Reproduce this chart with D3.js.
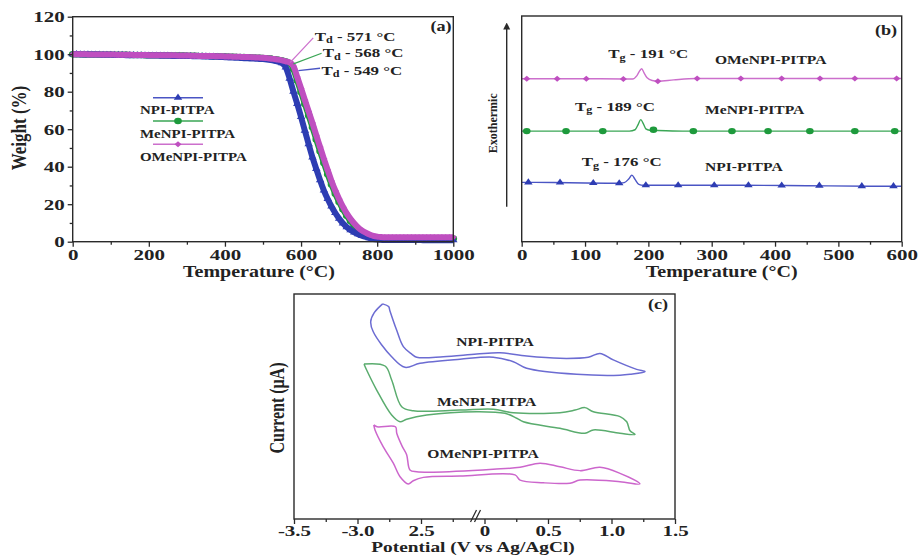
<!DOCTYPE html>
<html>
<head>
<meta charset="utf-8">
<script src="https://cdn.jsdelivr.net/npm/d3@7"></script>
<style>
  body { margin: 0; background: #fff; }
  svg text { font-family: "Liberation Serif", "Times New Roman", serif; font-weight: bold; fill: #222; }
</style>
</head>
<body>
<div id="chart"></div>
<script>
// ---- data ----
const seriesNames = ['NPI-PITPA', 'MeNPI-PITPA', 'OMeNPI-PITPA'];

// (a) TGA, weight (%) every 10 °C
const tgaTemps = [0,10,20,30,40,50,60,70,80,90,100,110,120,130,140,150,160,170,180,190,
  200,210,220,230,240,250,260,270,280,290,300,310,320,330,340,350,360,370,380,390,
  400,410,420,430,440,450,460,470,480,490,500,510,520,530,540,550,560,570,580,590,
  600,610,620,630,640,650,660,670,680,690,700,710,720,730,740,750,760,770,780,790,
  800,810,820,830,840,850,860,870,880,890,900,910,920,930,940,950,960,970,980,990,1000];
const tgaNPI = [100.0,100.0,99.9,99.9,99.9,99.8,99.8,99.8,99.7,99.7,
  99.7,99.6,99.6,99.6,99.5,99.5,99.5,99.4,99.4,99.4,
  99.3,99.3,99.3,99.2,99.2,99.2,99.1,99.1,99.1,99.0,
  99.0,99.0,98.9,98.9,98.8,98.8,98.7,98.7,98.6,98.5,
  98.4,98.3,98.2,98.1,98.0,97.9,97.8,97.7,97.6,97.5,
  97.4,97.2,96.9,96.5,96.0,95.2,93.0,87.0,80.0,73.5,
  66.5,59.2,52.0,45.0,38.8,32.8,27.3,22.8,18.8,15.3,
  12.3,9.8,7.8,6.2,5.0,4.0,3.2,2.5,1.9,1.4,
  1.1,1.0,0.9,0.9,0.9,0.9,0.9,0.9,0.9,0.9,
  0.9,0.9,0.8,0.8,0.8,0.8,0.8,0.8,0.8,0.8,0.8];
const tgaMeNPI = [100.0,100.0,100.0,99.9,99.9,99.9,99.9,99.8,99.8,99.8,
  99.8,99.7,99.7,99.7,99.7,99.6,99.6,99.6,99.6,99.5,
  99.5,99.5,99.5,99.4,99.4,99.4,99.4,99.3,99.3,99.3,
  99.2,99.2,99.2,99.1,99.1,99.0,99.0,98.9,98.9,98.8,
  98.8,98.7,98.7,98.6,98.5,98.5,98.4,98.3,98.2,98.1,
  98.0,97.9,97.7,97.4,97.1,96.7,96.1,95.2,92.0,86.0,
  79.8,73.5,67.3,61.0,54.5,48.2,42.0,36.0,30.5,25.6,
  21.2,17.3,13.9,11.0,8.6,6.6,5.0,3.9,3.0,2.4,
  2.0,1.8,1.7,1.7,1.7,1.7,1.7,1.7,1.7,1.7,
  1.7,1.7,1.7,1.7,1.7,1.7,1.7,1.7,1.7,1.7,1.7];
const tgaOMeNPI = [100.0,100.0,100.0,100.0,99.9,99.9,99.9,99.9,99.8,99.8,
  99.8,99.8,99.7,99.7,99.7,99.7,99.6,99.6,99.6,99.6,
  99.5,99.5,99.5,99.5,99.4,99.4,99.4,99.4,99.3,99.3,
  99.3,99.2,99.2,99.1,99.1,99.1,99.0,99.0,98.9,98.9,
  98.8,98.8,98.7,98.7,98.6,98.5,98.5,98.4,98.3,98.2,
  98.1,97.9,97.7,97.4,97.1,96.7,96.2,95.6,93.6,87.8,
  81.8,75.6,69.5,63.3,56.8,50.5,44.2,38.2,32.4,27.3,
  22.8,18.7,15.1,12.2,9.7,7.6,6.0,4.8,3.8,3.1,
  2.7,2.5,2.4,2.4,2.4,2.4,2.4,2.4,2.4,2.4,
  2.4,2.4,2.4,2.4,2.4,2.4,2.4,2.4,2.4,2.4,2.4];
const tdValues = [549, 568, 571];

const tgaXTicks = [0, 200, 400, 600, 800, 1000];
const tgaXMinor = [100, 300, 500, 700, 900];
const tgaYTicks = [0, 20, 40, 60, 80, 100, 120];
const tgaYMinor = [10, 30, 50, 70, 90, 110];

// (b) DSC, arbitrary offset units [T, signal]
const dscNPI = [[0,26.3],[50,26.2],[100,26.0],[150,25.9],[162,26.2],[169,27.8],[174,29.5],[179,27.6],
  [185,25.4],[192,25.0],[250,25.0],[350,25.0],[450,24.8],[550,24.6],[600,24.6]];
const dscNPIMarks = [[10.5,26.3],[60.5,26.2],[113,26.0],[154,25.9],[196,25.0],[247,25.0],[304,25.0],
  [358,25.0],[410.5,24.9],[470,24.8],[537,24.6],[587,24.6]];
const dscMeNPI = [[0,49.0],[100,49.0],[170,49.0],[179,49.6],[184,52.0],[188,54.1],[192,52.3],[196,50.0],
  [202,49.4],[215,49.3],[260,49.0],[600,49.0]];
const dscMeNPIMarks = [[8,49.0],[70,49.0],[128,49.0],[208,49.6],[271,49.0],[332,49.0],[389,49.0],
  [455,49.0],[526,49.0],[589,49.0]];
const dscOMeNPI = [[0,72.2],[100,72.2],[160,72.1],[175,72.1],[182,73.6],[186.5,75.8],[189.5,76.6],
  [193,74.9],[198,72.6],[206,71.4],[215,71.1],[240,71.7],[275,72.3],[600,72.3]];
const dscOMeNPIMarks = [[8,72.2],[56,72.2],[102,72.2],[160.5,72.1],[215,71.1],[277,72.3],[346,72.3],
  [410.5,72.3],[471,72.3],[526,72.3],[592,72.3]];
const tgValues = [176, 189, 191];
const dscXTicks = [0, 100, 200, 300, 400, 500, 600];
const dscXMinor = [50, 150, 250, 350, 450, 550];

// (c) CV loops [potential V, current (offset units)]
const cvNPI = [[-2.802,95.6],[-2.755,94.4],[-2.745,92.6],[-2.692,84.0],[-2.639,76.6],[-2.573,73.3],
  [-2.534,71.9],[-1.622,72.1],[-0.307,73.3],[0.122,73.9],[0.332,72.4],[0.594,71.4],[0.817,71.9],
  [0.909,73.6],[1.014,70.7],[1.198,66.5],[1.264,65.5],[1.146,64.3],[1.067,63.9],[0.726,64.3],
  [0.332,67.0],[0.227,69.9],[0.069,71.9],[-0.965,71.0],[-2.508,69.2],[-2.626,67.4],[-2.731,72.1],
  [-2.876,83.2],[-2.896,87.7],[-2.868,91.7],[-2.802,95.6]];
const cvMeNPI = [[-2.949,68.9],[-2.783,68.0],[-2.731,61.8],[-2.652,49.9],[-2.561,48.1],[-0.965,48.4],
  [0.069,48.8],[0.227,47.2],[0.594,47.2],[0.713,48.4],[0.791,49.5],[0.857,47.7],[1.067,45.5],
  [1.120,43.2],[1.146,39.2],[1.185,37.6],[1.067,38.1],[0.857,39.6],[0.791,38.1],[0.594,40.3],
  [0.306,43.2],[0.254,44.8],[0.161,47.0],[-0.307,47.7],[-2.276,46.2],[-2.613,44.3],[-2.665,43.2],
  [-2.731,46.2],[-2.849,57.3],[-2.928,66.2],[-2.949,68.9]];
const cvOMeNPI = [[-2.872,41.8],[-2.846,41.0],[-2.701,41.0],[-2.691,38.1],[-2.648,32.3],[-2.613,28.6],
  [-2.587,21.8],[-2.534,21.0],[-2.016,20.8],[0.069,22.1],[0.280,23.0],[0.437,24.8],[0.594,23.2],
  [0.752,21.5],[0.909,23.0],[1.067,20.3],[1.224,15.6],[1.067,16.6],[0.752,17.3],[0.673,15.9],
  [0.463,16.1],[0.280,17.3],[0.240,19.6],[-0.965,19.1],[-2.409,18.5],[-2.561,17.0],[-2.600,15.6],
  [-2.665,18.8],[-2.718,24.8],[-2.797,32.1],[-2.862,39.6],[-2.872,41.8]];
const cvTicks = [-3.5, -3.0, -2.5, 0, 0.5, 1.0, 1.5];
const cvTickLabels = ['-3.5', '-3.0', '2.5', '0', '0.5', '1.0', '1.5'];
const cvMinor = [-3.25, -2.75, -1.25, 0.25, 0.75, 1.25];

// ---- styles ----
const SX = 1.3;           // the figure is stretched sideways, text too
const SX_TICK = 1.4;
const SX_TITLE = 1.25;
const INK = '#2a2a2a';
const styles = [
  { symbol: d3.symbolTriangle, size: 22, mark: '#2e3db3', line: '#4a55c4', cv: '#6c6cd2' },
  { symbol: d3.symbolCircle, size: 32, mark: '#1e9a3c', line: '#3aa655', cv: '#5aac6e' },
  { symbol: d3.symbolDiamond2 || d3.symbolDiamond, size: 22, mark: '#bf4fc0', line: '#cc6fcc', cv: '#cc66cc' }
];

const svg = d3.select('#chart').append('svg')
  .attr('width', 919)
  .attr('height', 556);

function addText (parent, x, y, str, size, anchor = 'start', rotate = 0, sx = SX) {
  return parent.append('text')
    .attr('transform', `translate(${x},${y}) scale(${sx},1)` + (rotate ? ` rotate(${rotate})` : ''))
    .attr('font-size', size)
    .attr('text-anchor', anchor)
    .attr('dy', '0.35em')
    .text(str);
}

// "T" + subscript + rest
function addSubText (parent, x, y, sub, rest, size) {
  const t = parent.append('text')
    .attr('transform', `translate(${x},${y}) scale(${SX},1)`)
    .attr('font-size', size)
    .attr('dy', '0.35em');
  t.append('tspan').text('T');
  t.append('tspan').attr('font-size', size * 0.72).attr('dy', size * 0.22).text(sub);
  t.append('tspan').attr('dy', -size * 0.22).text(rest);
}

function frame (box) {
  svg.append('rect')
    .attr('x', box.left).attr('y', box.top)
    .attr('width', box.right - box.left).attr('height', box.bottom - box.top)
    .attr('fill', 'none').attr('stroke', INK).attr('stroke-width', 1.4);
}

function styleAxis (g, left) {
  g.select('.domain').remove();
  g.style('color', INK).attr('font-family', null).attr('font-size', 15);
  g.selectAll('line').attr('stroke-width', 1.3);
  g.selectAll('text')
    .attr('transform', `scale(${SX_TICK},1)`)
    .attr('x', function () { return left ? -8 / SX_TICK : 0; });
}

function bottomAxis (scale, box, major, minor, format, pad = 3) {
  const gMin = svg.append('g').attr('transform', `translate(0,${box.bottom})`)
    .call(d3.axisBottom(scale).tickValues(minor).tickSize(3).tickFormat(''));
  styleAxis(gMin, false);
  const gMaj = svg.append('g').attr('transform', `translate(0,${box.bottom})`)
    .call(d3.axisBottom(scale).tickValues(major).tickSize(5).tickPadding(pad).tickFormat(format));
  styleAxis(gMaj, false);
}

function marker (parent, st, x, y) {
  parent.append('path')
    .attr('d', d3.symbol().type(st.symbol).size(st.size)())
    .attr('transform', `translate(${x},${y}) scale(1.2,1)`)
    .attr('fill', st.mark);
}

// ================= (a) TGA =================
const boxA = { left: 72.7, right: 453.3, top: 16.7, bottom: 241.7 };
const xA = d3.scaleLinear().domain([0, 1000]).range([boxA.left, boxA.right]);
const yA = d3.scaleLinear().domain([0, 120]).range([boxA.bottom, boxA.top]);
const tgaSeries = [tgaNPI, tgaMeNPI, tgaOMeNPI];

const gA = svg.append('g');
[1, 0, 2].forEach(i => {
  const pts = tgaTemps.map((t, k) => [t, tgaSeries[i][k]]);
  // the markers are so dense they merge into a band
  gA.append('path')
    .attr('d', d3.line().x(d => xA(d[0])).y(d => yA(d[1])).curve(d3.curveMonotoneX)(pts))
    .attr('fill', 'none').attr('stroke', styles[i].mark).attr('stroke-width', 6)
    .attr('stroke-linejoin', 'round');
  pts.forEach(d => marker(gA, styles[i], xA(d[0]), yA(d[1])));
});

frame(boxA);
const gAyMin = svg.append('g').attr('transform', `translate(${boxA.left},0)`)
  .call(d3.axisLeft(yA).tickValues(tgaYMinor).tickSize(3).tickFormat(''));
styleAxis(gAyMin, true);
const gAy = svg.append('g').attr('transform', `translate(${boxA.left},0)`)
  .call(d3.axisLeft(yA).tickValues(tgaYTicks).tickSize(5).tickPadding(3));
styleAxis(gAy, true);
bottomAxis(xA, boxA, tgaXTicks, tgaXMinor, d3.format('d'));

addText(svg, 259, 271.5, 'Temperature (°C)', 16, 'middle', 0, SX_TITLE);
addText(svg, 19, 128, 'Weight (%)', 17, 'middle', -90, SX_TITLE);
addText(svg, 441, 26, '(a)', 14, 'middle');

// legend
seriesNames.forEach((name, i) => {
  const ly = 97.7 + i * 23.3;
  svg.append('line')
    .attr('x1', 153).attr('x2', 203).attr('y1', ly).attr('y2', ly)
    .attr('stroke', styles[i].line).attr('stroke-width', 1.4);
  marker(svg, styles[i], 178, ly);
  addText(svg, 140, ly + 12.5, name, 11.5);
});

// Td call-outs: [curve point] -> [label point]
const tdLeaders = [
  { i: 2, from: [571, 95.5], to: [632, 108.7], text: [636, 109.7] },
  { i: 1, from: [580, 94.8], to: [654, 100.5], text: [657, 100.8] },
  { i: 0, from: [593, 91.2], to: [650, 92.5], text: [654, 91.6] }
];
tdLeaders.forEach(l => {
  svg.append('line')
    .attr('x1', xA(l.from[0])).attr('y1', yA(l.from[1]))
    .attr('x2', xA(l.to[0])).attr('y2', yA(l.to[1]))
    .attr('stroke', styles[l.i].line).attr('stroke-width', 1.3);
  addSubText(svg, xA(l.text[0]), yA(l.text[1]), 'd', ` - ${tdValues[l.i]} °C`, 13);
});

// ================= (b) DSC =================
const boxB = { left: 521.7, right: 901.7, top: 16, bottom: 241.7 };
const xB = d3.scaleLinear().domain([0, 600]).range([boxB.left, boxB.right]);
const yB = d3.scaleLinear().domain([0, 100]).range([boxB.bottom, boxB.top]);
const dscLines = [dscNPI, dscMeNPI, dscOMeNPI];
const dscMarks = [dscNPIMarks, dscMeNPIMarks, dscOMeNPIMarks];

const gB = svg.append('g');
dscLines.forEach((line, i) => {
  gB.append('path')
    .attr('d', d3.line().x(d => xB(d[0])).y(d => yB(d[1])).curve(d3.curveMonotoneX)(line))
    .attr('fill', 'none').attr('stroke', styles[i].line).attr('stroke-width', 1.4);
  dscMarks[i].forEach(d => marker(gB, styles[i], xB(d[0]), yB(d[1])));
});
frame(boxB);
bottomAxis(xB, boxB, dscXTicks, dscXMinor, d3.format('d'));
addText(svg, 721.7, 271.5, 'Temperature (°C)', 16, 'middle', 0, SX_TITLE);
addText(svg, 886, 30, '(b)', 14, 'middle');

// Tg and series labels
const tgLabelPos = [[581.7, 161.7], [575, 106], [608.3, 53.3]];
const nameLabelPos = [[705, 166.7], [705, 109.3], [715, 60]];
tgValues.forEach((v, i) => {
  addSubText(svg, tgLabelPos[i][0], tgLabelPos[i][1], 'g', ` - ${v} °C`, 13);
  addText(svg, nameLabelPos[i][0], nameLabelPos[i][1], seriesNames[i], 12);
});

// exothermic arrow
svg.append('defs').append('marker')
  .attr('id', 'arrow').attr('viewBox', '0 0 10 10')
  .attr('refX', 5).attr('refY', 5).attr('markerWidth', 5).attr('markerHeight', 7)
  .attr('orient', 'auto-start-reverse')
  .append('path').attr('d', 'M0,0 L10,5 L0,10 z').attr('fill', INK);
svg.append('line')
  .attr('x1', 506.7).attr('y1', 206.7).attr('x2', 506.7).attr('y2', 26)
  .attr('stroke', INK).attr('stroke-width', 1.4).attr('marker-end', 'url(#arrow)');
addText(svg, 492, 123.3, 'Exothermic', 12, 'middle', -90, 1.1);

// ================= (c) CV =================
const boxC = { left: 294, right: 675, top: 294, bottom: 519 };
const stepC = (boxC.right - boxC.left) / 6;
// broken axis: -3.5..-2.5 and 0..1.5 keep their scale, -2.5..0 is squeezed into one step
const xC = d3.scaleLinear()
  .domain([-3.5, -2.5, 0, 1.5])
  .range([boxC.left, boxC.left + 2 * stepC, boxC.left + 3 * stepC, boxC.right]);
const yC = d3.scaleLinear().domain([0, 100]).range([boxC.bottom, boxC.top]);
const cvLoops = [cvNPI, cvMeNPI, cvOMeNPI];

const gC = svg.append('g');
cvLoops.forEach((loop, i) => {
  gC.append('path')
    .attr('d', d3.line().x(d => xC(d[0])).y(d => yC(d[1])).curve(d3.curveCatmullRom.alpha(0.5))(loop))
    .attr('fill', 'none').attr('stroke', styles[i].cv).attr('stroke-width', 1.5)
    .attr('stroke-linejoin', 'round');
});
frame(boxC);
bottomAxis(xC, boxC, cvTicks, cvMinor, (d, k) => cvTickLabels[k], 1);

// axis break marks
const brX = xC(0) - 11;
[0, 4].forEach(off => {
  svg.append('line')
    .attr('x1', brX + off - 3).attr('y1', boxC.bottom + 3)
    .attr('x2', brX + off + 3).attr('y2', boxC.bottom - 9)
    .attr('stroke', INK).attr('stroke-width', 1.3);
});

addText(svg, 473, 546.5, 'Potential (V vs Ag/AgCl)', 15.5, 'middle', 0, SX_TITLE);
addText(svg, 277, 408, 'Current (μA)', 16, 'middle', -90, SX_TITLE);
addText(svg, 658, 304.5, '(c)', 14, 'middle');
addText(svg, 495, 341.7, 'NPI-PITPA', 12, 'middle');
addText(svg, 486.7, 401.7, 'MeNPI-PITPA', 12, 'middle');
addText(svg, 483, 453.3, 'OMeNPI-PITPA', 12, 'middle');
</script>
</body>
</html>
